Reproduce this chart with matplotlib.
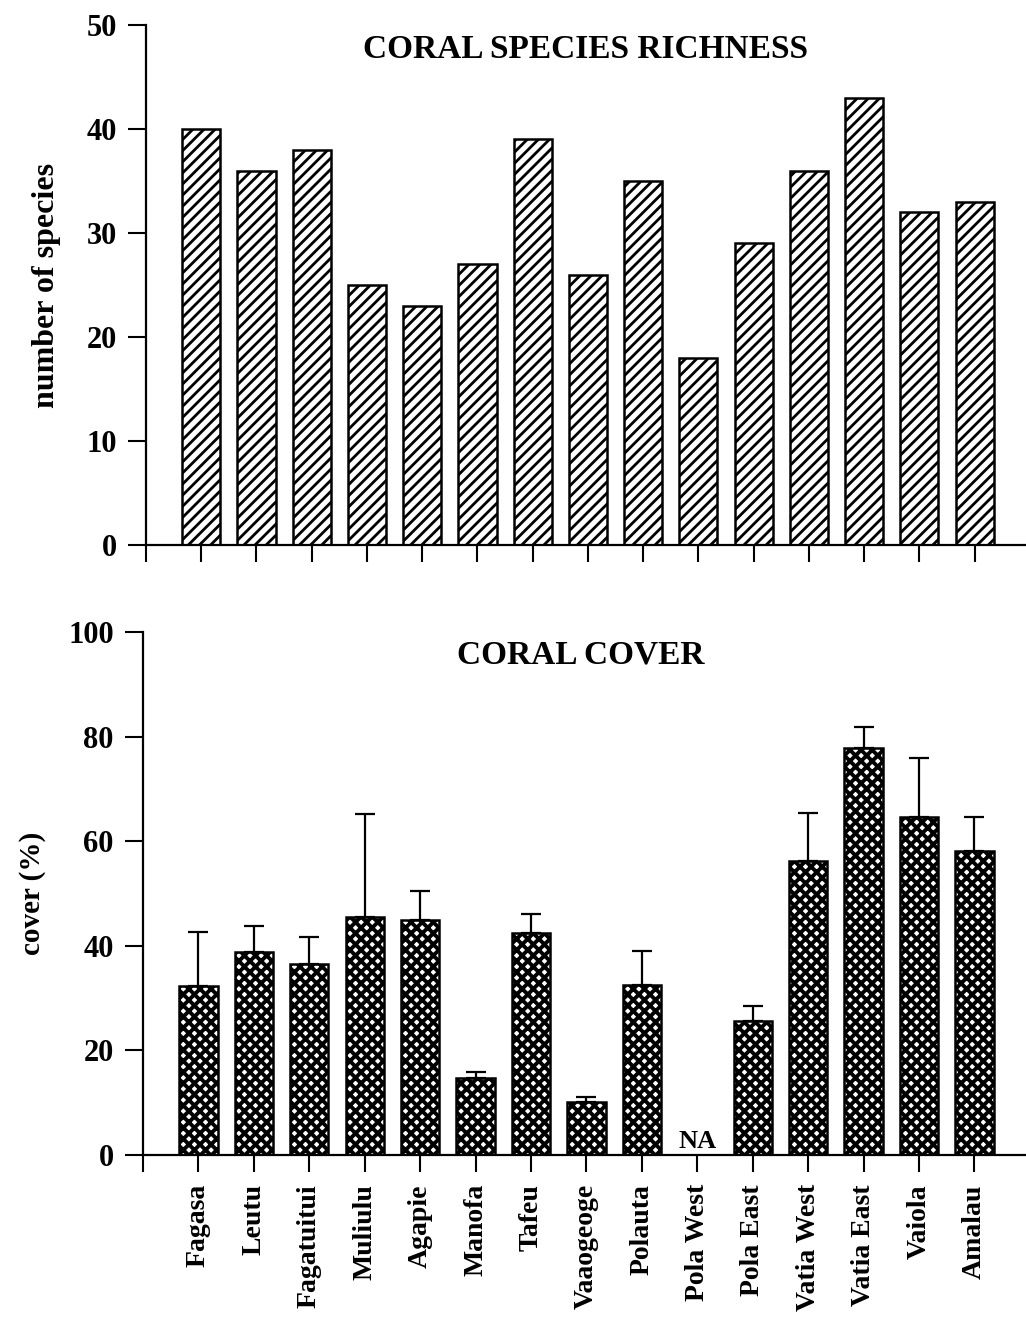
import matplotlib
matplotlib.use('Agg')
import matplotlib.pyplot as plt
import numpy as np

sites = ['Fagasa', 'Leutu', 'Fagatuitui', 'Muliulu', 'Agapie', 'Manofa', 'Tafeu',
         'Vaaogeoge', 'Polauta', 'Pola West', 'Pola East', 'Vatia West', 'Vatia East',
         'Vaiola', 'Amalau']
richness = [40, 36, 38, 25, 23, 27, 39, 26, 35, 18, 29, 36, 43, 32, 33]
cover = [32.3, 38.9, 36.6, 45.5, 45.0, 14.8, 42.5, 10.2, 32.5, np.nan, 25.6, 56.3, 77.9, 64.7, 58.1]
cover_err = [10.4, 4.8, 5.0, 19.7, 5.5, 1.0, 3.5, 0.8, 6.5, 0, 2.8, 9.0, 3.9, 11.2, 6.5]

plt.rcParams['font.family'] = 'Liberation Serif'
plt.rcParams['font.weight'] = 'bold'

fig = plt.figure(figsize=(10.26, 13.25), dpi=100)
ax1 = fig.add_axes([146/1026, 1-545/1325, 1-146/1026, 520/1325])
ax2 = fig.add_axes([143/1026, 1-1155/1325, 1-143/1026, 523/1325])

x = np.arange(1, len(sites)+1)

# top panel: diagonal hatch
plt.rcParams['hatch.linewidth'] = 2.0
b1 = ax1.bar(x, richness, width=0.69, facecolor='white', edgecolor='black',
             linewidth=1.8, hatch='///')
for b in b1:
    if hasattr(b, 'set_hatch_linewidth'):
        b.set_hatch_linewidth(2.0)

# bottom panel: dark cross hatch
plt.rcParams['hatch.linewidth'] = 2.8
b2 = ax2.bar(x, np.nan_to_num(cover), width=0.69, facecolor='white', edgecolor='black',
             linewidth=1.8, hatch='xxx')
for b in b2:
    if hasattr(b, 'set_hatch_linewidth'):
        b.set_hatch_linewidth(2.8)

c = np.array(cover)
ok = ~np.isnan(c)
ax2.errorbar(x[ok], c[ok], yerr=[np.zeros(ok.sum()), np.array(cover_err)[ok]],
             fmt='none', ecolor='black', elinewidth=1.6, capsize=7, capthick=1.6)
ax2.text(10, 0.3, 'NA', ha='center', va='bottom', fontsize=19, fontweight='bold')

for ax in (ax1, ax2):
    ax.spines['top'].set_visible(False)
    ax.spines['right'].set_visible(False)
    ax.spines['left'].set_linewidth(1.6)
    ax.spines['bottom'].set_linewidth(1.6)
    ax.set_xlim(0, 15.93)
    ax.set_xticks(range(0, 16))
    ax.tick_params(axis='x', length=12, width=1.5, direction='out', pad=9)
    ax.tick_params(axis='y', length=13, width=1.5, direction='out', pad=8, labelsize=22)

ax1.set_ylim(0, 50)
ax1.set_yticks([0, 10, 20, 30, 40, 50])
ax1.set_xticklabels([])
ax1.set_ylabel('number of species', fontsize=23, fontweight='bold')
ax1.yaxis.set_label_coords(-0.097, 0.5)
ax1.text(0.499, 0.952, 'CORAL SPECIES RICHNESS', transform=ax1.transAxes,
         ha='center', va='center', fontsize=24, fontweight='bold')

ax2.set_ylim(0, 100)
ax2.set_yticks([0, 20, 40, 60, 80, 100])
ax2.set_xticklabels([''] + sites, rotation=90, fontsize=20, fontweight='bold')
ax2.set_ylabel('cover (%)', fontsize=21, fontweight='bold')
ax2.yaxis.set_label_coords(-0.11, 0.5)
ax2.text(0.496, 0.956, 'CORAL COVER', transform=ax2.transAxes,
         ha='center', va='center', fontsize=24, fontweight='bold')

fig.savefig('out.png', dpi=100)
